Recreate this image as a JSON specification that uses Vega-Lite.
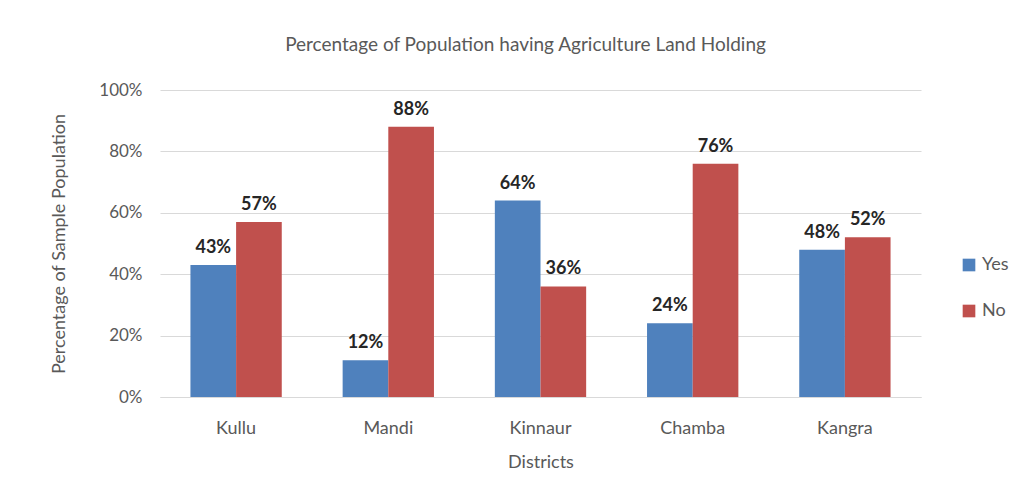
{
  "$schema": "https://vega.github.io/schema/vega-lite/v6.json",
  "autosize": {"type": "none"},
  "padding": {"left": 160, "top": 90, "right": 107, "bottom": 107},
  "width": 761,
  "height": 307,
  "background": "white",
  "config": {"font": "Lato", "view": {"stroke": null}},
  "title": {"text": "Percentage of Population having Agriculture Land Holding", "fontSize": 19, "fontWeight": "normal", "color": "#595959", "offset": 26, "dx": -15, "font": "Lato"},
  "data": {"values": [
    {"district": "Kullu", "answer": "Yes", "pct": 0.43},
    {"district": "Kullu", "answer": "No", "pct": 0.57},
    {"district": "Mandi", "answer": "Yes", "pct": 0.12},
    {"district": "Mandi", "answer": "No", "pct": 0.88},
    {"district": "Kinnaur", "answer": "Yes", "pct": 0.64},
    {"district": "Kinnaur", "answer": "No", "pct": 0.36},
    {"district": "Chamba", "answer": "Yes", "pct": 0.24},
    {"district": "Chamba", "answer": "No", "pct": 0.76},
    {"district": "Kangra", "answer": "Yes", "pct": 0.48},
    {"district": "Kangra", "answer": "No", "pct": 0.52}
  ]},
  "encoding": {
    "x": {"field": "district", "type": "nominal", "sort": ["Kullu", "Mandi", "Kinnaur", "Chamba", "Kangra"],
      "scale": {"paddingInner": 0.4, "paddingOuter": 0.2},
      "axis": {"title": "Districts", "labelAngle": 0, "labelFontSize": 18, "labelColor": "#595959", "titleFontSize": 18, "titleColor": "#595959", "titleFontWeight": "normal", "ticks": false, "domain": true, "domainColor": "#d9d9d9", "labelPadding": 22, "titlePadding": 16}},
    "xOffset": {"field": "answer", "type": "nominal", "sort": ["Yes", "No"]},
    "y": {"field": "pct", "type": "quantitative", "scale": {"domain": [0, 1]},
      "axis": {"title": "Percentage of Sample Population", "format": ".0%", "values": [0, 0.2, 0.4, 0.6, 0.8, 1], "labelFontSize": 17, "labelColor": "#595959", "titleFontSize": 18, "titleColor": "#595959", "titleFontWeight": "normal", "ticks": false, "domain": false, "gridColor": "#d9d9d9", "labelPadding": 18, "titlePadding": 30}}
  },
  "layer": [
    {"mark": {"type": "bar"},
     "encoding": {"color": {"field": "answer", "type": "nominal", "sort": ["Yes", "No"],
       "scale": {"domain": ["Yes", "No"], "range": ["#4f81bd", "#c0504d"]},
       "legend": {"title": null, "orient": "none", "legendX": 800, "legendY": 166, "symbolType": "square", "symbolSize": 160, "labelFontSize": 18, "labelColor": "#595959", "rowPadding": 28, "symbolStrokeWidth": 0}}}},
    {"mark": {"type": "text", "baseline": "bottom", "dy": -8, "fontSize": 18, "fontWeight": "bold", "color": "#262626"},
     "encoding": {"text": {"field": "pct", "type": "quantitative", "format": ".0%"}}}
  ]
}
